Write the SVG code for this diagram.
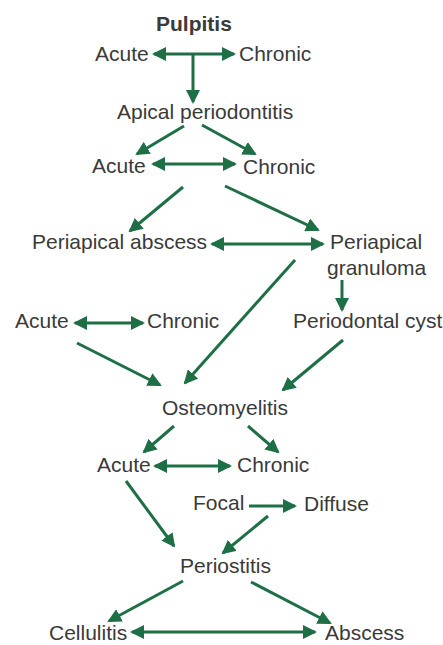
<svg xmlns="http://www.w3.org/2000/svg" width="443" height="645" viewBox="0 0 443 645">
<style>
text{font-family:"Liberation Sans",Arial,sans-serif;font-size:21px;fill:#3a3a3a}
.b{font-weight:bold}
.c line{stroke:#1e6f45;stroke-width:3;fill:none;marker-end:url(#ah)}
.c line.d{marker-start:url(#ah)}
</style>
<defs>
<marker id="ah" markerUnits="userSpaceOnUse" markerWidth="14" markerHeight="14" refX="12" refY="7" orient="auto-start-reverse" viewBox="0 0 14 14">
<path d="M0,0 L14,7 L0,14 Z" fill="#1e6f45"/>
</marker>
</defs>
<rect width="443" height="645" fill="#ffffff"/>
<g id="pulpitis"><text class="b" x="156" y="31">Pulpitis</text></g>
<g id="acute1"><text x="95" y="61">Acute</text></g>
<g id="chronic1"><text x="239" y="61">Chronic</text></g>
<g id="apical"><text x="117" y="119">Apical periodontitis</text></g>
<g id="acute2"><text x="92" y="173">Acute</text></g>
<g id="chronic2"><text x="243" y="174">Chronic</text></g>
<g id="abscess1"><text x="32" y="249">Periapical abscess</text></g>
<g id="granuloma"><text x="330" y="249">Periapical</text><text x="327" y="275">granuloma</text></g>
<g id="cyst"><text x="293" y="328">Periodontal cyst</text></g>
<g id="acute3"><text x="15" y="328">Acute</text></g>
<g id="chronic3"><text x="147" y="328">Chronic</text></g>
<g id="osteo"><text x="162" y="415">Osteomyelitis</text></g>
<g id="acute4"><text x="97" y="472">Acute</text></g>
<g id="chronic4"><text x="237" y="472">Chronic</text></g>
<g id="focal"><text x="193" y="510">Focal</text></g>
<g id="diffuse"><text x="304" y="511">Diffuse</text></g>
<g id="periostitis"><text x="180" y="573">Periostitis</text></g>
<g id="cellulitis"><text x="49" y="640">Cellulitis</text></g>
<g id="abscess2"><text x="325" y="640">Abscess</text></g>
<g class="c" id="connectors">
<line class="d" x1="154" y1="54" x2="234" y2="54"/>
<line x1="193" y1="54" x2="193" y2="102"/>
<line x1="184" y1="126" x2="137" y2="154"/>
<line x1="202" y1="125" x2="255" y2="154"/>
<line class="d" x1="153" y1="164" x2="235" y2="164"/>
<line x1="183" y1="187" x2="130" y2="231"/>
<line x1="225" y1="186" x2="318" y2="230"/>
<line class="d" x1="212" y1="244" x2="323" y2="244"/>
<line x1="342" y1="280" x2="342" y2="310"/>
<line x1="295" y1="260" x2="185" y2="383"/>
<line class="d" x1="75" y1="323" x2="143" y2="323"/>
<line x1="77" y1="343" x2="160" y2="385"/>
<line x1="343" y1="340" x2="283" y2="390"/>
<line x1="174" y1="426" x2="144" y2="452"/>
<line x1="248" y1="426" x2="278" y2="452"/>
<line class="d" x1="155" y1="466" x2="230" y2="466"/>
<line x1="249" y1="506" x2="295" y2="506"/>
<line x1="126" y1="481" x2="174" y2="546"/>
<line x1="268" y1="516" x2="223" y2="553"/>
<line x1="183" y1="581" x2="109" y2="621"/>
<line x1="251" y1="582" x2="330" y2="623"/>
<line class="d" x1="132" y1="632" x2="315" y2="632"/>
</g>
</svg>
